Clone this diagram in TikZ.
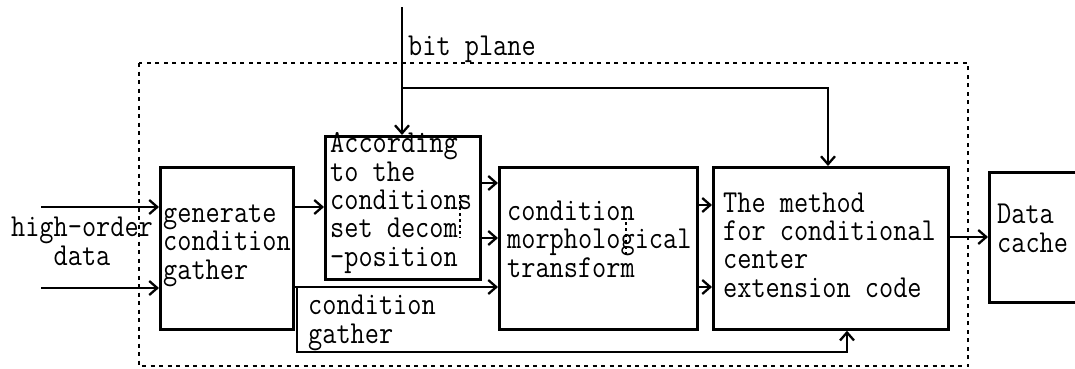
\documentclass[tikz,border=0pt]{standalone}
\usepackage{fontspec}
\newfontfamily\songmono{Latin Modern Mono}[FakeStretch=0.86]
\usetikzlibrary{arrows.meta}
\tikzset{
  box/.style={draw, line width=2.7pt, rectangle, inner sep=0pt, anchor=north west},
  arr/.style={line width=2.5pt, -{Straight Barb[length=8pt,width=14pt,line width=2.3pt]}},
  frame/.style={line width=2.6pt, dash pattern=on 4pt off 4.5pt},
  ghost/.style={line width=2pt, dash pattern=on 3pt off 3pt},
  txt/.style={font=\songmono\fontsize{32}{28.3}\selectfont, inner sep=0pt, align=left, anchor=base west},
}
\begin{document}
\setlength{\lineskiplimit}{-20pt}
\begin{tikzpicture}[x=1pt,y=-1pt]
\useasboundingbox (0,0) rectangle (1075,368);
\clip (0,0) rectangle (1075,368);
% dotted frame
\draw[frame] (139,63) rectangle (968,366);
% boxes
\node[box, minimum width=133pt, minimum height=162pt] (b1) at (159,166) {};
\node[box, minimum width=155pt, minimum height=143pt] (b2) at (324,135) {};
\node[box, minimum width=198pt, minimum height=162pt] (b3) at (498,166) {};
\node[box, minimum width=235pt, minimum height=162pt] (b4) at (712,166) {};
\node[box, minimum width=120pt, minimum height=130pt] (b5) at (988,171) {};
% texts (anchored at the baseline of the last line)
\node[txt] (t1) at (163,279) {generate\\condition\\gather};
\node[txt] (t2) at (330,266) {According\\to the\\conditions\\set decom\\-position};
\node[txt] (t3) at (507,277) {condition\\morphological\\transform};
\node[txt] (t4) at (723,297) {The method\\for conditional\\center\\extension code};
\node[txt] (t5) at (997,252) {Data\\cache};
\node[txt] (t6) at (308,343) {condition\\gather};
\node[txt, align=center, anchor=base] (t7) at (82,265) {high-order\\data};
\node[txt] (t8) at (408,55) {bit plane};
% ghost dotted marks
\draw[ghost] (460,195) -- (460,238);
\draw[ghost] (626,222) -- (626,257);
% connectors
\coordinate (top) at (402,7);
\coordinate (in1) at (41,207);
\coordinate (in2) at (41,288);
\draw[arr] (top) -- (b2.north -| top);
\draw[arr] (top |- 0,88) -- (828,88) -- (b4.north -| 828,0);
\draw[arr] (in1) -- (b1.west |- in1);
\draw[arr] (in2) -- (b1.west |- in2);
\draw[arr] (b1.east |- 0,207) -- (b2.west |- 0,207);
\draw[arr] (b2.east |- 0,183) -- (b3.west |- 0,183);
\draw[arr] (b2.east |- 0,238) -- (b3.west |- 0,238);
\draw[arr] (b1.east |- 0,287) -- (b3.west |- 0,287);
\draw[arr] (297,287) -- (297,352) -- (847,352) -- (b4.south -| 847,0);
\draw[arr] (b3.east |- 0,205) -- (b4.west |- 0,205);
\draw[arr] (b3.east |- 0,287) -- (b4.west |- 0,287);
\draw[arr] (b4.east |- 0,237) -- (b5.west |- 0,237);
\end{tikzpicture}
\end{document}
